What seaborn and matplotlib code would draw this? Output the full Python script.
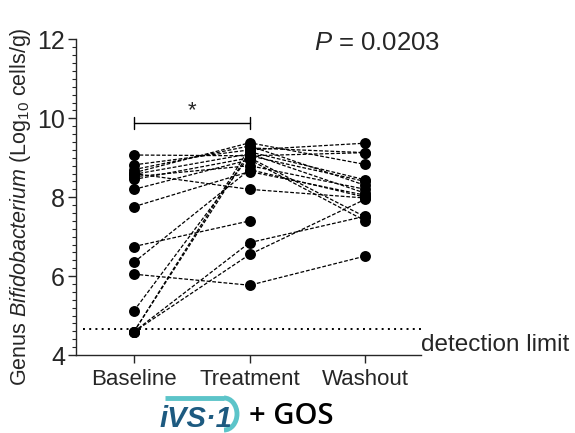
import matplotlib
matplotlib.use("Agg")
import matplotlib.pyplot as plt
import numpy as np
import pandas as pd
import seaborn as sns
from matplotlib.ticker import MultipleLocator
from matplotlib.patches import Arc
from matplotlib import font_manager

# log10 cells/g for each subject at the three time points (nan = no washout sample)
timepoints = ["Baseline", "Treatment", "Washout"]
baseline = [9.07, 8.82, 8.70, 8.62, 8.58, 8.52, 8.45, 8.20, 8.60, 7.76, 6.75, 6.35, 6.05, 5.12, 4.59, 4.59, 4.59, 4.59]
treatment = [9.05, 9.20, 9.30, 9.38, 9.10, 8.80, 9.00, 8.95, 8.20, 8.65, 7.40, 8.70, 5.77, 9.05, 9.25, 9.15, 6.85, 6.55]
washout = [9.13, 9.37, 8.30, 8.83, 8.10, 8.20, 7.50, 7.40, 7.98, 8.05, np.nan, 8.00, 6.51, 8.40, 9.13, 8.44, 7.52, 7.95]
detection_limit = 4.65
p_text = "$\\it{P}$ = 0.0203"

rows = []
for i in range(len(baseline)):
    for tp, vals in zip(timepoints, [baseline, treatment, washout]):
        rows.append({"subject": i, "time": tp, "value": vals[i]})
df = pd.DataFrame(rows).dropna()

sns.set_style("ticks")
plt.rcParams['font.family'] = ['Liberation Sans', 'DejaVu Sans']
plt.rcParams['mathtext.fontset'] = 'custom'
plt.rcParams['mathtext.it'] = 'Liberation Sans:italic'
plt.rcParams['mathtext.rm'] = 'Liberation Sans'

installed = {f.name for f in font_manager.fontManager.ttflist}
narrow = 'Liberation Sans Narrow' if 'Liberation Sans Narrow' in installed else 'Liberation Sans'

fig = plt.figure(figsize=(5.75, 4.33), dpi=100)
ax = fig.add_axes([76 / 575, 0.18, 345 / 575, 0.729])

sns.lineplot(data=df, x="time", y="value", units="subject", estimator=None,
             color="black", linewidth=0.9, linestyle=(0, (3, 1.5)), ax=ax, legend=False)
sns.scatterplot(data=df, x="time", y="value", color="black", s=62, edgecolor="black",
                linewidth=0, ax=ax, legend=False, zorder=3)

ax.axhline(detection_limit, color="black", linestyle=(0, (1, 2.2)), linewidth=1.4,
           xmin=0.02, xmax=1.012, clip_on=False)

ax.set_xlim(-0.50, 2.48)
ax.set_ylim(4, 12)
ax.yaxis.set_major_locator(MultipleLocator(2))
ax.yaxis.set_minor_locator(MultipleLocator(0.2))
ax.tick_params(axis="y", which="major", length=6, width=1, labelsize=18, pad=2)
ax.tick_params(axis="y", which="minor", length=3, width=0.8)
ax.tick_params(axis="x", length=6, width=1, labelsize=16, pad=4)
sns.despine(ax=ax)
ax.spines["left"].set_linewidth(1)
ax.spines["bottom"].set_linewidth(1)
ax.set_xlabel("")
ax.set_ylabel("Genus $\\it{Bifidobacterium}$ (Log$_{10}$ cells/g)", fontsize=15.5)
ax.yaxis.set_label_coords(-0.125, 0.47)

# significance bracket Baseline vs Treatment
ax.plot([0, 1], [9.88, 9.88], color="black", linewidth=1)
ax.plot([0, 0], [9.72, 10.04], color="black", linewidth=1)
ax.plot([1, 1], [9.72, 10.04], color="black", linewidth=1)
ax.text(0.5, 9.92, "*", ha="center", va="bottom", fontsize=16)

fig.text(0.656, 0.90, p_text, ha="center", va="center", fontsize=18.5)
fig.text(0.733, 0.203, "detection limit", ha="left", va="center", fontsize=17.5)

# product label under the chart, drawn in a pixel-coordinate helper axes
lax = fig.add_axes([155 / 575, 0, 190 / 575, 48 / 433])
lax.set_xlim(155, 345)
lax.set_ylim(433, 385)
lax.axis("off")
teal = "#5cc4c9"
lax.plot([165, 224], [398, 398], color=teal, linewidth=3.5, solid_capstyle="butt")
lax.add_patch(Arc((224, 414), 26, 32, theta1=-90, theta2=90, color=teal, linewidth=3.5))
lax.text(196, 419, "iVS·1", ha="center", va="center", fontsize=21, color="#1d5a80",
         family=narrow, fontweight="bold", style="italic")
lax.text(291, 416, "+ GOS", ha="center", va="center", fontsize=21, color="black",
         family=["Open Sans", "Liberation Sans"], fontweight="semibold")

fig.savefig("out.png", dpi=100)
